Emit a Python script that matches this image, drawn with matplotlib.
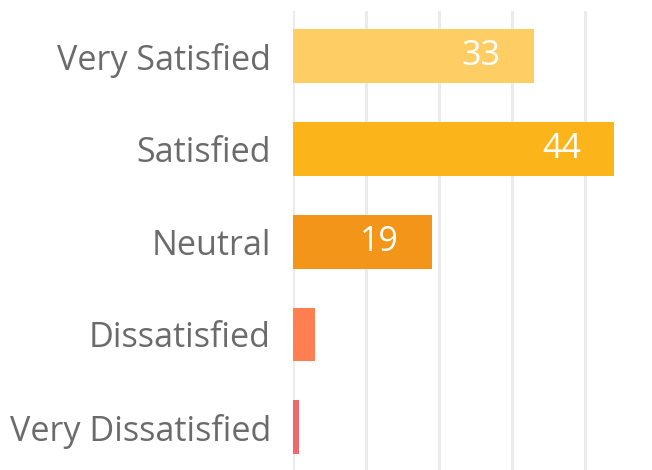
import matplotlib
matplotlib.use("Agg")
import matplotlib.pyplot as plt

categories = ["Very Satisfied", "Satisfied", "Neutral", "Dissatisfied", "Very Dissatisfied"]
values = [33, 44, 19, 3, 0.8]
labels = ["33", "44", "19", "", ""]
colors = ["#FECE65", "#FBB41A", "#F39519", "#FF7F50", "#F0686F"]

plt.rcParams['font.family'] = ['Open Sans', 'DejaVu Sans']

fig = plt.figure(figsize=(6.52, 4.70), dpi=100)
ax = fig.add_axes([293 / 652, 0, 1 - 293 / 652, 1 - 11 / 470])

y = list(range(len(categories)))
ax.barh(y, values, height=0.58, color=colors, zorder=2)

for yi, v, lab in zip(y, values, labels):
    if lab:
        ax.annotate(lab, (v, yi), xytext=(-33, 0), textcoords="offset pixels",
                    ha="right", va="center", color="white", fontsize=24.5)

ax.set_xlim(0, 49.2)
ax.set_ylim(4.46, -0.485)
ax.set_xticks([0, 10, 20, 30, 40])
ax.xaxis.grid(True, color="#EBEBEB", linewidth=2.2, zorder=0)
ax.set_axisbelow(True)
ax.tick_params(axis="x", length=0, labelbottom=False)
ax.tick_params(axis="y", length=0, pad=16, labelsize=24.6, labelcolor="#6B6B6B")
ax.set_yticks(y)
ax.set_yticklabels(categories)
for s in ax.spines.values():
    s.set_visible(False)

fig.savefig("out.png", dpi=100)
